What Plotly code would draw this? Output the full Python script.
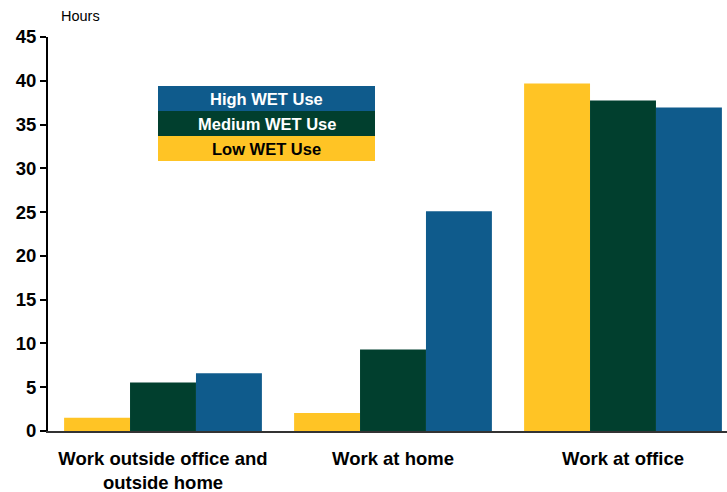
import plotly.graph_objects as go

categories = ["Work outside office and<br>outside home", "Work at home", "Work at office"]
series_names = ["Low WET Use", "Medium WET Use", "High WET Use"]
low_vals = [1.5, 2.05, 39.7]
med_vals = [5.55, 9.3, 37.75]
high_vals = [6.6, 25.1, 36.95]
colors = ["#FFC425", "#013F2E", "#0F5B8C"]
text_colors = ["black", "white", "white"]
y_ticks = [0, 5, 10, 15, 20, 25, 30, 35, 40, 45]

W, H = 727, 492
L, R, T, B = 48, 0, 37, 61

fig = go.Figure()
for name, vals, c in zip(series_names, [low_vals, med_vals, high_vals], colors):
    fig.add_trace(go.Bar(x=categories, y=vals, name=name, marker=dict(color=c, line=dict(width=0))))

pw = W - L - R
ph = H - T - B
def px(x):
    return (x - L) / pw
def py(y):
    return (H - B - y) / ph

# legend boxes (High on top)
box_x0, box_x1 = 158, 375
rows = [("High WET Use", colors[2], text_colors[2], 86),
        ("Medium WET Use", colors[1], text_colors[1], 111),
        ("Low WET Use", colors[0], text_colors[0], 136)]
shapes = []
annotations = []
for label, c, tc, ytop in rows:
    shapes.append(dict(type="rect", xref="paper", yref="paper",
                       x0=px(box_x0), x1=px(box_x1), y0=py(ytop + 25), y1=py(ytop),
                       fillcolor=c, line=dict(width=0), layer="above"))
    annotations.append(dict(text=label, xref="paper", yref="paper",
                            x=px((box_x0 + box_x1) / 2), y=py(ytop + 12.5),
                            xanchor="center", yanchor="middle", showarrow=False,
                            font=dict(size=16.5, color=tc, weight="bold",
                                      family="Liberation Sans, Arial")))
annotations.append(dict(text="Hours", xref="paper", yref="paper", x=px(59), y=py(16),
                        xanchor="left", yanchor="middle", showarrow=False,
                        font=dict(size=14.5, color="black", family="Liberation Sans, Arial")))

fig.update_layout(
    width=W, height=H,
    margin=dict(l=L, r=R, t=T, b=B, pad=0, autoexpand=False),
    paper_bgcolor="white", plot_bgcolor="white",
    barmode="group", bargap=0.14, bargroupgap=0,
    showlegend=False,
    font=dict(family="Liberation Sans, Arial", color="black"),
    shapes=shapes, annotations=annotations,
    xaxis=dict(range=[-0.5, -0.5 + pw / 230], showline=True, linecolor="#333333", linewidth=2,
               ticks="", tickfont=dict(size=18.5, color="black", weight="bold"),
               ticklabelstandoff=10, automargin=False,
               showgrid=False, zeroline=False),
    yaxis=dict(range=[0, 45], tickvals=y_ticks, showline=True, linecolor="black", linewidth=2,
               ticks="outside", ticklen=6, tickwidth=2, tickcolor="black", automargin=False,
               tickfont=dict(size=18.5, color="black", weight="bold"),
               showgrid=False, zeroline=False),
)
fig.write_html("out.html", config=dict(displayModeBar=False),
               post_script="document.body.style.margin='0';document.body.style.overflow='hidden';")
